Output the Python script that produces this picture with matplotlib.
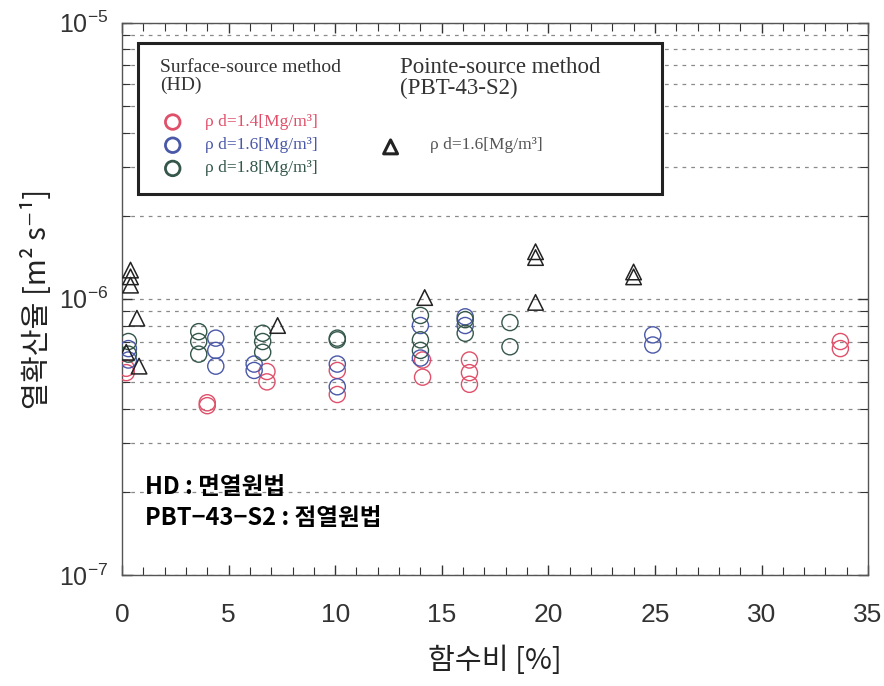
import matplotlib
matplotlib.use('Agg')
import matplotlib.pyplot as plt
from matplotlib.patches import Rectangle
from matplotlib.ticker import MultipleLocator, LogLocator, NullFormatter

plt.rcParams['font.family'] = ['Liberation Sans', 'DejaVu Sans']

# 면열원법 (HD) : 건조밀도별 함수비[%] / 열확산율[m2/s]
hd14_w = [0.2, 0.2, 4.0, 4.0, 6.8, 6.8, 10.1, 10.1, 14.1, 14.1, 16.3, 16.3, 16.3, 33.7, 33.7]
hd14_a = [0.54e-6, 0.56e-6, 0.42e-6, 0.41e-6, 0.545e-6, 0.50e-6, 0.55e-6, 0.45e-6,
          0.60e-6, 0.52e-6, 0.60e-6, 0.54e-6, 0.49e-6, 0.70e-6, 0.66e-6]

hd16_w = [0.3, 0.3, 4.4, 4.4, 4.4, 6.2, 6.2, 10.1, 10.1, 14.0, 14.0, 16.1, 16.1, 24.9, 24.9]
hd16_a = [0.66e-6, 0.60e-6, 0.72e-6, 0.65e-6, 0.57e-6, 0.58e-6, 0.55e-6, 0.58e-6, 0.48e-6,
          0.80e-6, 0.61e-6, 0.86e-6, 0.80e-6, 0.74e-6, 0.68e-6]

hd18_w = [0.3, 0.3, 3.6, 3.6, 3.6, 6.6, 6.6, 6.6, 10.1, 10.1, 14.0, 14.0, 14.0,
          16.1, 16.1, 18.2, 18.2]
hd18_a = [0.70e-6, 0.63e-6, 0.76e-6, 0.70e-6, 0.63e-6, 0.75e-6, 0.70e-6, 0.64e-6,
          0.72e-6, 0.71e-6, 0.87e-6, 0.71e-6, 0.65e-6, 0.84e-6, 0.75e-6, 0.82e-6, 0.67e-6]

# 점열원법 (PBT-43-S2), 건조밀도 1.6
pbt_w = [0.4, 0.4, 0.4, 0.7, 0.2, 0.8, 7.3, 14.2, 19.4, 19.4, 19.4, 24.0, 24.0]
pbt_a = [1.27e-6, 1.20e-6, 1.12e-6, 0.85e-6, 0.64e-6, 0.57e-6, 0.80e-6, 1.01e-6,
         1.48e-6, 1.41e-6, 0.97e-6, 1.25e-6, 1.20e-6]

hd_labels = ['ρ d=1.4[Mg/m³]', 'ρ d=1.6[Mg/m³]', 'ρ d=1.8[Mg/m³]']
pbt_label = 'ρ d=1.6[Mg/m³]'

c_red = '#e0506a'
c_blue = '#4a58a8'
c_green = '#34574a'

fig = plt.figure(figsize=(8.84, 6.86), dpi=100)
ax = fig.add_axes([0.138, 0.162, 0.844, 0.805])

ax.set_yscale('log')
ax.set_xlim(0, 35)
ax.set_ylim(1e-7, 1e-5)

# 점선 격자 (주/보조 눈금 모두)
ax.yaxis.grid(True, which='both', linestyle=(0, (3, 4)), color='#8a8a8a', linewidth=0.9)
ax.set_axisbelow(True)

ax.xaxis.set_major_locator(MultipleLocator(5))
ax.xaxis.set_minor_locator(MultipleLocator(1))
ax.yaxis.set_minor_locator(LogLocator(base=10, subs=range(2, 10)))
ax.yaxis.set_minor_formatter(NullFormatter())
ax.tick_params(which='both', direction='in', top=True, right=True, color='#333333')
ax.tick_params(which='major', length=7, width=1)
ax.tick_params(which='minor', length=6, width=0.8)
ax.tick_params(axis='x', labelsize=19, labelcolor='#333333', pad=20)
ax.tick_params(axis='y', labelsize=18, labelcolor='#333333', pad=10)
for sp in ax.spines.values():
    sp.set_color('#555555')
    sp.set_linewidth(1.0)

ms = 135
ax.scatter(hd14_w, hd14_a, s=ms, facecolors='none', edgecolors=c_red, linewidths=1, zorder=4)
ax.scatter(hd16_w, hd16_a, s=ms, facecolors='none', edgecolors=c_blue, linewidths=1, zorder=4)
ax.scatter(hd18_w, hd18_a, s=ms, facecolors='none', edgecolors=c_green, linewidths=1, zorder=4)
ax.scatter(pbt_w, pbt_a, s=125, marker='^', facecolors='none', edgecolors='#222222',
           linewidths=1.1, zorder=4)

ax.set_xlabel('함수비 [%]', fontsize=21, family=['Noto Sans CJK KR', 'DejaVu Sans'],
              labelpad=14, color='#222222')
ax.set_ylabel('열확산율 [m² s⁻¹]', fontsize=21, family=['Noto Sans CJK KR', 'DejaVu Sans'],
              labelpad=4, color='#222222')

# 범례 상자
box = Rectangle((0.022, 0.69), 0.702, 0.274, transform=ax.transAxes,
                facecolor='white', edgecolor='#222222', linewidth=2.2, zorder=3)
ax.add_patch(box)

serif = ['Liberation Serif', 'DejaVu Serif']
ax.text(0.051, 0.935, 'Surface-source method\n(HD)', transform=ax.transAxes,
        fontsize=14, family=serif, color='#333333', va='top', linespacing=1.05, zorder=5)
ax.text(0.373, 0.938, 'Pointe-source method\n(PBT-43-S2)', transform=ax.transAxes,
        fontsize=16.5, family=serif, color='#333333', va='top', linespacing=1.0, zorder=5)

leg_y = [0.820, 0.778, 0.736]
for yy, col, lab in zip(leg_y, [c_red, c_blue, c_green], hd_labels):
    ax.scatter([0.068], [yy], s=110, facecolors='none', edgecolors=col, linewidths=2,
               transform=ax.transAxes, zorder=5, clip_on=False)
    ax.text(0.111, yy, lab, transform=ax.transAxes, fontsize=12.5, family=serif,
            color=col, va='center', zorder=5)
ax.scatter([0.36], [0.775], s=100, marker='^', facecolors='none', edgecolors='#222222',
           linewidths=2.2, transform=ax.transAxes, zorder=5, clip_on=False)
ax.text(0.413, 0.778, pbt_label, transform=ax.transAxes, fontsize=12.5, family=serif,
        color='#555555', va='center', zorder=5)

kr = ['Noto Sans CJK KR', 'DejaVu Sans']
ax.text(0.031, 0.159, 'HD : 면열원법', transform=ax.transAxes, fontsize=17,
        family=kr, fontweight='bold', va='center', zorder=5)
ax.text(0.031, 0.103, 'PBT−43−S2 : 점열원법', transform=ax.transAxes, fontsize=17,
        family=kr, fontweight='bold', va='center', zorder=5)

fig.savefig('out.png', dpi=100, facecolor='white')
